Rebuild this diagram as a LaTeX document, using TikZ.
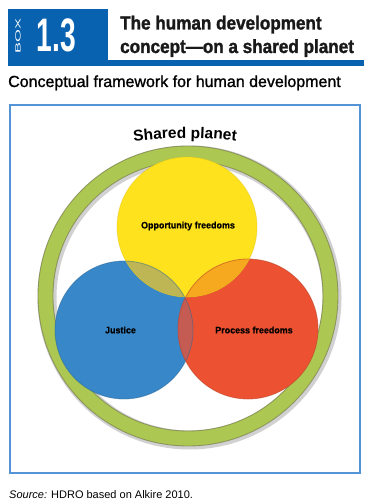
\documentclass[tikz,border=0pt]{standalone}
\usepackage{fontspec}
\setmainfont{Liberation Sans}
\usetikzlibrary{decorations.text}
\definecolor{boxblue}{RGB}{8,98,176}
\definecolor{frameblue}{RGB}{84,148,214}
\definecolor{ringgreen}{RGB}{172,200,82}
\definecolor{ringedge}{RGB}{110,112,70}
\definecolor{cyellow}{RGB}{255,226,30}
\definecolor{cblue}{RGB}{56,135,200}
\definecolor{cred}{RGB}{236,82,50}
\definecolor{ovYB}{RGB}{190,182,84}
\definecolor{ovYR}{RGB}{246,168,30}
\definecolor{ovBR}{RGB}{196,92,84}
\tikzset{
  circlabel/.style={inner sep=0, text=black, font=\fontsize{9.4}{10}\selectfont\bfseries\addfontfeature{FakeBold=0.6}},
  setcircle/.style={circle, inner sep=0, minimum size=#1},
  titleline/.style={anchor=base west, inner sep=0, text=black!90, font=\fontsize{19}{19}\selectfont\bfseries\addfontfeature{FakeBold=1.6}},
}
\begin{document}
\begin{tikzpicture}[x=1pt,y=-1pt]
\useasboundingbox (0,0) rectangle (364,502);
\fill[white] (0,0) rectangle (364,502);
% header
\fill[boxblue] (8,9) rectangle (108,66);
\fill[boxblue] (108,60.5) rectangle (364,66);
\node[text=white, rotate=90, inner sep=0, font=\fontsize{7.5}{8}\selectfont] (boxword) at (18,36) {\scalebox{2.2}[1]{BOX}};
\node[text=white, anchor=base west, inner sep=0, font=\fontsize{47}{47}\selectfont\bfseries] (boxnum) at (36.5,52) {\scalebox{0.6}[1]{1.3}};
\node[titleline] (title1) at (120,29.5) {\scalebox{0.9}[1]{The human development}};
\node[titleline] (title2) at (120,53) {\scalebox{0.9}[1]{concept---on a shared planet}};
\node[anchor=base west, inner sep=0, font=\fontsize{16}{16}\selectfont\addfontfeature{FakeBold=1.2}] (subtitle) at (8,87) {Conceptual framework for human development};
% frame
\draw[frameblue, line width=2.5] (10,105) rectangle (360,473);
% ring
\draw[black, opacity=0.18, line width=4] (189.5,297.5) circle (150pt);
\draw[black, opacity=0.18, line width=4] (189.5,297.5) circle (135pt);
\fill[ringgreen, even odd rule] (188,296) circle (150pt) (188,296) circle (135pt);
\draw[ringedge, opacity=0.6, line width=0.9] (188,296) circle (150pt) (188,296) circle (135pt);
% shared planet label
\path[decorate, decoration={text along path, text align=center,
  text={|\fontsize{15.5}{16}\selectfont\bfseries|Shared planet}}]
  (185,538) ++(100:400pt) arc[start angle=100, end angle=80, radius=400pt];
% circles
\node[setcircle=138pt, fill=cblue] (justc) at (124,330) {};
\node[setcircle=140pt, fill=cred] (procc) at (248,329) {};
\node[setcircle=140pt, fill=cyellow] (oppc) at (187,227) {};
\begin{scope}
  \clip (124,330) circle (69pt);
  \fill[ovBR] (248,329) circle (70pt);
\end{scope}
\begin{scope}
  \clip (187,227) circle (70pt);
  \fill[ovYB] (124,330) circle (69pt);
  \fill[ovYR] (248,329) circle (70pt);
\end{scope}
\draw[cblue!75!black, opacity=0.5, line width=0.8] (124,330) circle (69pt);
\draw[cred!80!black, opacity=0.6, line width=0.8] (248,329) circle (70pt);
\draw[cyellow!85!black, opacity=0.4, line width=0.8] (187,227) circle (70pt);
% labels
\node[circlabel] (opp) at (188,226) {\scalebox{0.95}[1]{Opportunity freedoms}};
\node[circlabel] (proc) at (254,330) {\scalebox{0.95}[1]{Process freedoms}};
\node[circlabel] (just) at (120.5,330) {\scalebox{0.95}[1]{Justice}};
% source
\node[anchor=base west, inner sep=0, font=\fontsize{11}{11}\selectfont] (source) at (9,498) {\textit{Source:} HDRO based on Alkire 2010.};
\end{tikzpicture}
\end{document}
